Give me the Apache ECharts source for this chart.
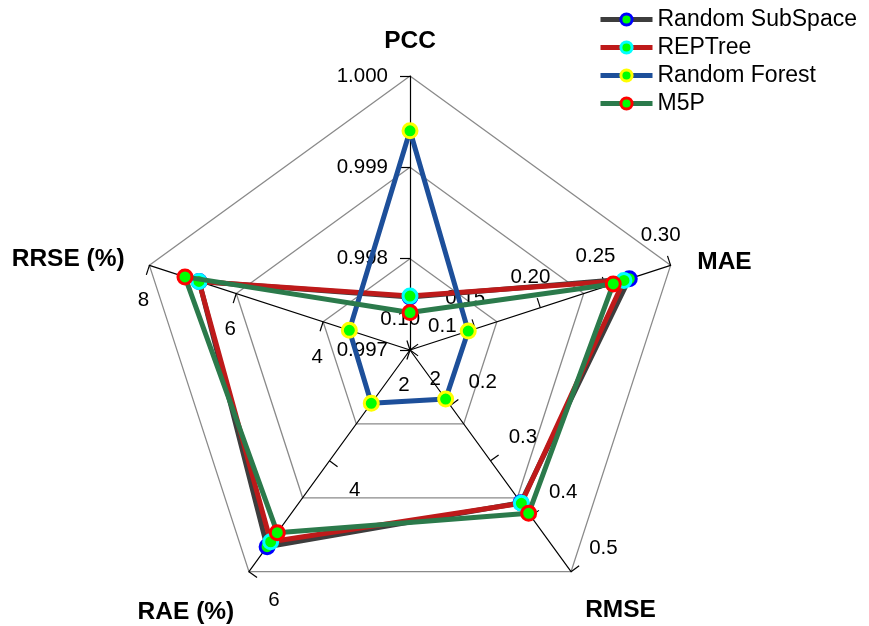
<!DOCTYPE html>
<html>
<head>
<meta charset="utf-8">
<script src="https://cdn.jsdelivr.net/npm/echarts@6/dist/echarts.min.js"></script>
<style>html,body{margin:0;padding:0;background:#fff}#chart{width:869px;height:626px}</style>
</head>
<body>
<div id="chart"></div>
<script>
// ---- data (metric order: PCC, MAE, RMSE, RAE (%), RRSE (%)) ----
const metrics = ['PCC', 'MAE', 'RMSE', 'RAE (%)', 'RRSE (%)'];
const axisMin = [0.997, 0.10, 0.1, 2, 2];
const axisMax = [1.000, 0.30, 0.5, 6, 8];
const tickDecimals = [3, 2, 1, 0, 0];
const tickDivisions = [3, 4, 4, 2, 3];
const seriesNames = ['Random SubSpace', 'REPTree', 'Random Forest', 'M5P'];
const randomSubSpace = [0.99758, 0.2683, 0.3755, 5.549, 6.855];
const repTree = [0.99759, 0.2642, 0.3766, 5.460, 6.859];
const randomForest = [0.99940, 0.1447, 0.1885, 2.962, 3.397];
const m5p = [0.99741, 0.2560, 0.3947, 5.296, 7.181];

// ---- styling ----
const FONT = "'Liberation Sans', Arial, sans-serif";
const lineColors = ['#3d3d3d', '#be1a1a', '#1d4f9a', '#2b7a4b'];
const markerBorders = ['#0000ff', '#00ffff', '#ffff00', '#ff0000'];
const markerFill = '#00ff00';
const seriesValues = [randomSubSpace, repTree, randomForest, m5p];

// radar goes counter-clockwise: PCC, RRSE, RAE, RMSE, MAE
const order = [0, 4, 3, 2, 1];
const labelCfg = {
  0: { margin: 22, align: 'right', padding: [0, 0, 0, 0] },
  1: { margin: 32, align: 'center', padding: [0, 0, 0, 0] },
  2: { margin: 40, align: 'center', padding: [0, 0, 0, 0] },
  3: { margin: 36, align: 'center', padding: [16, 8, 0, 0] },
  4: { margin: 34, align: 'center', padding: [6, 0, 0, 9] }
};
const nameGaps = { 0: 22, 1: 28, 2: 24, 3: 25, 4: 26 };
const nameTags = { 'PCC': 'n0', 'MAE': 'n1', 'RMSE': 'n2', 'RAE (%)': 'n3', 'RRSE (%)': 'n4' };
const nameBase = { color: '#000', fontSize: 24.5, fontWeight: 'bold', fontFamily: FONT };
const tickFont = { color: '#000', fontSize: 20.5, fontFamily: FONT };
function richName(padTop) {
  return Object.assign({ padding: [padTop, 0, 0, 0] }, nameBase);
}

function buildIndicators(divisions, showNames) {
  return order.map(function (m) {
    const on = tickDivisions[m] === divisions;
    const ind = {
      name: metrics[m],
      min: axisMin[m],
      max: axisMax[m],
      axisTick: { show: on },
      axisLabel: {
        show: on,
        margin: labelCfg[m].margin,
        align: labelCfg[m].align,
        verticalAlign: 'middle',
        formatter: function (v) { return '{t|' + Number(v).toFixed(tickDecimals[m]) + '}'; },
        rich: { t: Object.assign({ padding: labelCfg[m].padding }, tickFont) }
      }
    };
    if (showNames) ind.nameGap = nameGaps[m];
    return ind;
  });
}

function radarBase(divisions, main) {
  return {
    center: [410, 350],
    radius: 274,
    startAngle: 90,
    shape: 'polygon',
    splitNumber: divisions,
    indicator: buildIndicators(divisions, main),
    axisName: main ? Object.assign({
      show: true,
      formatter: function (name) { return '{' + nameTags[name] + '|' + name + '}'; },
      rich: { n0: richName(0), n1: richName(12), n2: richName(38), n3: richName(40), n4: richName(4) }
    }, nameBase) : { show: false },
    splitLine: { show: main, lineStyle: { color: '#8a8a8a', width: 1.3 } },
    splitArea: { show: false },
    axisLine: { show: main, lineStyle: { color: '#000', width: 1.2 } },
    axisTick: { show: false, length: 10, lineStyle: { color: '#000', width: 1.2 } },
    axisLabel: Object.assign({ show: false }, tickFont)
  };
}

const series = [];
// legend-only line series (provide the line + marker legend icon)
seriesNames.forEach(function (n, i) {
  series.push({
    type: 'line', name: n, data: [], symbol: 'circle',
    xAxisIndex: 0, yAxisIndex: 0,
    lineStyle: { color: lineColors[i], width: 5 },
    itemStyle: { color: markerFill, borderColor: markerBorders[i], borderWidth: 3 }
  });
});
seriesNames.forEach(function (n, i) {
  series.push({
    type: 'radar', name: n, radarIndex: 0,
    symbol: 'circle', symbolSize: 14,
    z: 3 + i,
    lineStyle: { color: lineColors[i], width: 5 },
    itemStyle: { color: markerFill, borderColor: markerBorders[i], borderWidth: 3 },
    data: [{ name: n, value: order.map(function (m) { return seriesValues[i][m]; }) }]
  });
});

const option = {
  backgroundColor: '#fff',
  animation: false,
  grid: { left: 0, top: 0, width: 1, height: 1, show: false },
  xAxis: { type: 'value', show: false },
  yAxis: { type: 'value', show: false },
  legend: {
    orient: 'vertical', left: 593, top: 3,
    itemWidth: 52, itemHeight: 14, itemGap: 5,
    selectedMode: false,
    textStyle: { fontSize: 23, color: '#000', fontFamily: FONT },
    data: seriesNames.map(function (n, i) {
      return {
        name: n,
        itemStyle: { color: markerFill, borderColor: markerBorders[i], borderWidth: 3 },
        lineStyle: { color: lineColors[i], width: 5 }
      };
    })
  },
  radar: [radarBase(3, true), radarBase(4, false), radarBase(2, false)],
  series: series
};

const chart = echarts.init(document.getElementById('chart'), null, { renderer: 'canvas' });
chart.setOption(option);
</script>
</body>
</html>
